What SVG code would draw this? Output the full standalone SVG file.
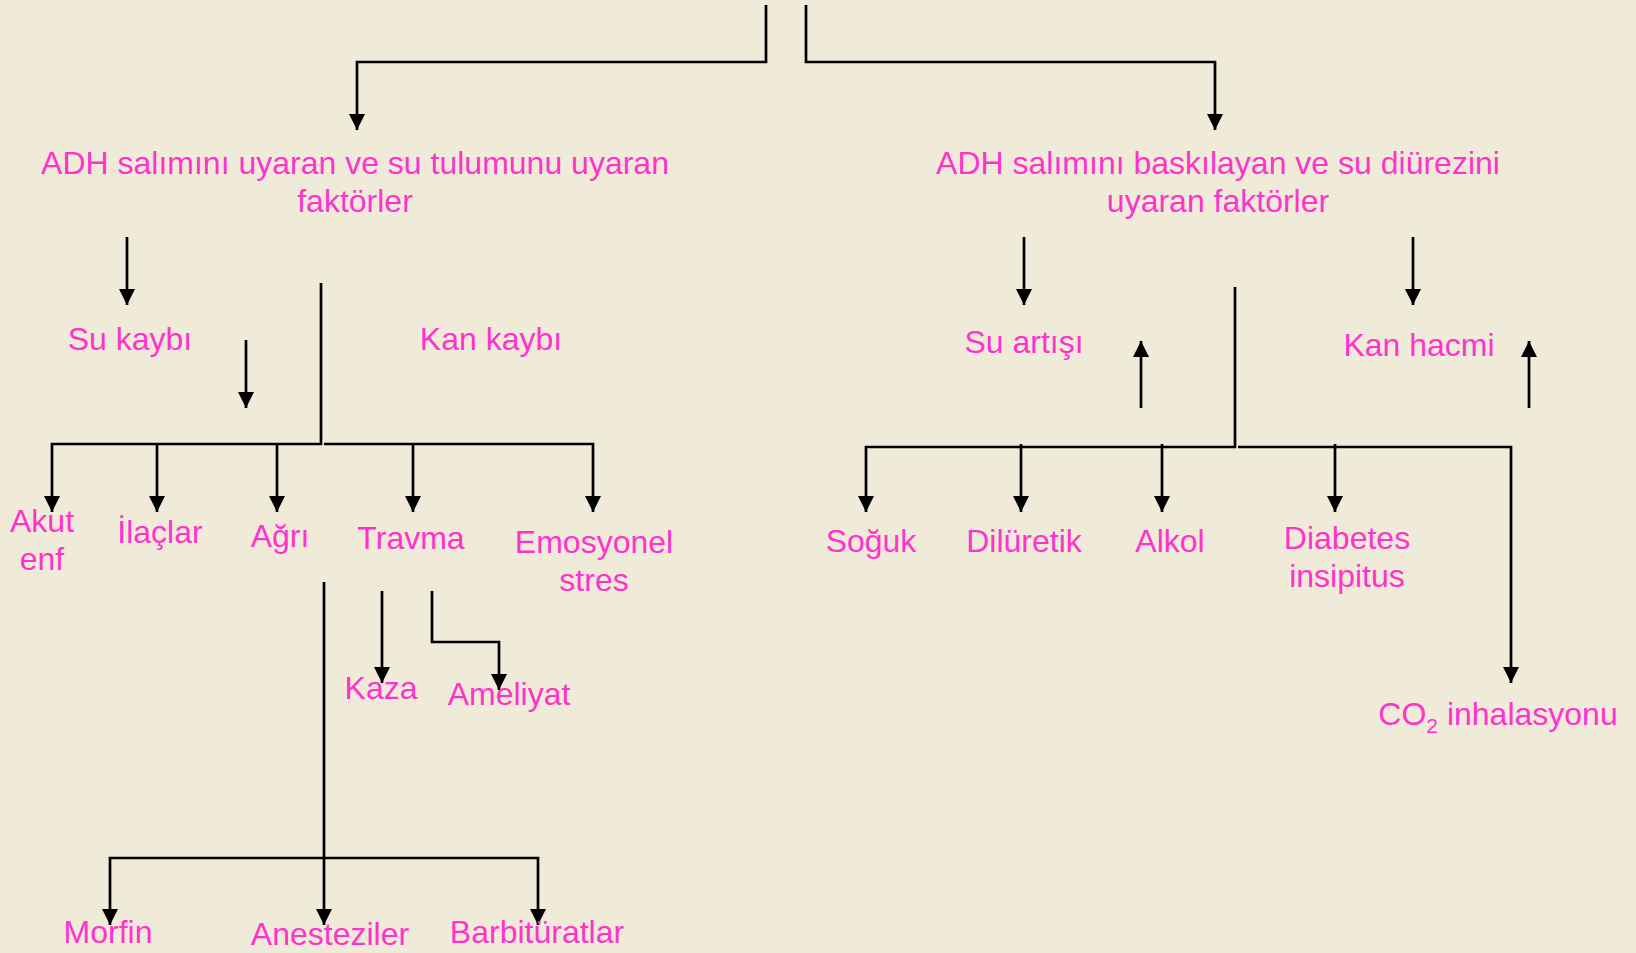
<svg xmlns="http://www.w3.org/2000/svg" width="1636" height="953" viewBox="0 0 1636 953">
<defs>
<style>
.t{font-family:"Liberation Sans",Arial,sans-serif;font-size:32px;fill:#FF33CC;text-anchor:middle}
.c{fill:none;stroke:#000;stroke-width:2.7}
</style>
<marker id="ah" markerUnits="userSpaceOnUse" markerWidth="16" markerHeight="16" viewBox="0 0 16 16" refX="16" refY="8" orient="auto">
<path d="M0,0 L16,8 L0,16 z" fill="#000"/>
</marker>
</defs>
<rect width="1636" height="953" fill="#F0EBD8"/>
<g id="connectors">
<path class="c" d="M766,5 V62 H357 V130" marker-end="url(#ah)"/>
<path class="c" d="M806,5 V62 H1215 V130" marker-end="url(#ah)"/>
<path class="c" d="M127,237 V305" marker-end="url(#ah)"/>
<path class="c" d="M246,340 V408" marker-end="url(#ah)"/>
<path class="c" d="M321,283 V444 H52 V512" marker-end="url(#ah)"/>
<path class="c" d="M324,444 H593 V512" marker-end="url(#ah)"/>
<path class="c" d="M157,444 V512" marker-end="url(#ah)"/>
<path class="c" d="M277,444 V512" marker-end="url(#ah)"/>
<path class="c" d="M413,444 V512" marker-end="url(#ah)"/>
<path class="c" d="M324,582 V925" marker-end="url(#ah)"/>
<path class="c" d="M382,591 V683" marker-end="url(#ah)"/>
<path class="c" d="M432,591 V642 H499 V690" marker-end="url(#ah)"/>
<path class="c" d="M324,858 H110 V925" marker-end="url(#ah)"/>
<path class="c" d="M324,858 H538 V925" marker-end="url(#ah)"/>
<path class="c" d="M1024,237 V305" marker-end="url(#ah)"/>
<path class="c" d="M1413,237 V305" marker-end="url(#ah)"/>
<path class="c" d="M1141,408 V341" marker-end="url(#ah)"/>
<path class="c" d="M1529,408 V341" marker-end="url(#ah)"/>
<path class="c" d="M1235,287 V447 H866 V512" marker-end="url(#ah)"/>
<path class="c" d="M1238,447 H1511 V683" marker-end="url(#ah)"/>
<path class="c" d="M1021,444 V512" marker-end="url(#ah)"/>
<path class="c" d="M1162,444 V512" marker-end="url(#ah)"/>
<path class="c" d="M1335,444 V512" marker-end="url(#ah)"/>
</g>
<g id="n-stim"><text class="t" x="355" y="174">ADH salımını uyaran ve su tulumunu uyaran</text><text class="t" x="355" y="212">faktörler</text></g>
<g id="n-supp"><text class="t" x="1218" y="174">ADH salımını baskılayan ve su diürezini</text><text class="t" x="1218" y="212">uyaran faktörler</text></g>
<g id="n-sukaybi"><text class="t" x="130" y="350">Su kaybı</text></g>
<g id="n-kankaybi"><text class="t" x="491" y="350">Kan kaybı</text></g>
<g id="n-suartisi"><text class="t" x="1024" y="353">Su artışı</text></g>
<g id="n-kanhacmi"><text class="t" x="1419" y="356">Kan hacmi</text></g>
<g id="n-akut"><text class="t" x="42" y="532">Akut</text><text class="t" x="42" y="570">enf</text></g>
<g id="n-ilaclar"><text class="t" x="160" y="543">İlaçlar</text></g>
<g id="n-agri"><text class="t" x="280" y="547">Ağrı</text></g>
<g id="n-travma"><text class="t" x="411" y="549">Travma</text></g>
<g id="n-emosyonel"><text class="t" x="594" y="553">Emosyonel</text><text class="t" x="594" y="591">stres</text></g>
<g id="n-kaza"><text class="t" x="381" y="699">Kaza</text></g>
<g id="n-ameliyat"><text class="t" x="509" y="705">Ameliyat</text></g>
<g id="n-morfin"><text class="t" x="108" y="943">Morfin</text></g>
<g id="n-anestezi"><text class="t" x="330" y="945">Anesteziler</text></g>
<g id="n-barbit"><text class="t" x="537" y="943">Barbitüratlar</text></g>
<g id="n-soguk"><text class="t" x="871" y="552">Soğuk</text></g>
<g id="n-diluretik"><text class="t" x="1024" y="552">Dilüretik</text></g>
<g id="n-alkol"><text class="t" x="1170" y="552">Alkol</text></g>
<g id="n-diabetes"><text class="t" x="1347" y="549">Diabetes</text><text class="t" x="1347" y="587">insipitus</text></g>
<g id="n-co2"><text class="t" x="1498" y="725">CO<tspan font-size="21" dy="8">2</tspan><tspan dy="-8"> inhalasyonu</tspan></text></g>
</svg>
